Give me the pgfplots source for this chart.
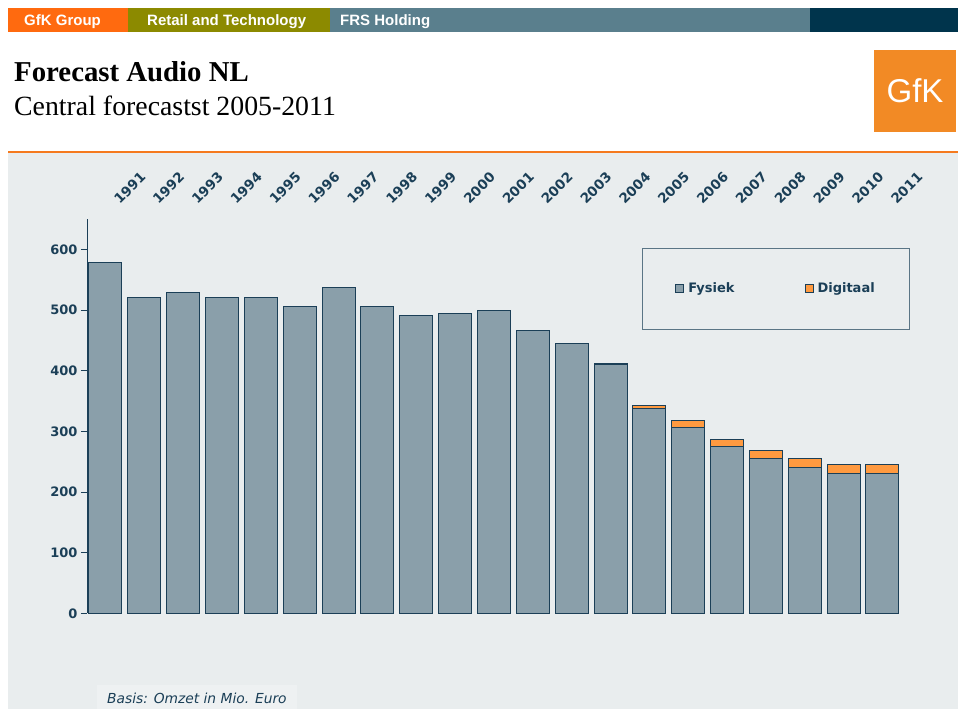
\documentclass[border=0pt]{standalone}
\usepackage{fontspec}
\setmainfont{Liberation Serif}
\newfontfamily\djv{DejaVu Sans}
\newfontfamily\lib{Liberation Sans}
\usepackage{graphicx}
\usepackage{pgfplots}
\usepackage{pgfplotstable}
\pgfplotsset{compat=1.18}

\definecolor{navy}{HTML}{1B3F57}
\definecolor{fys}{HTML}{8A9FAA}
\definecolor{dig}{HTML}{FF9A40}
\definecolor{panel}{HTML}{E9EDEE}
\definecolor{gfkorange}{HTML}{F28A25}
\definecolor{stripor}{HTML}{FF6A0F}
\definecolor{olivebar}{HTML}{8C8A00}
\definecolor{slate}{HTML}{5A7F8D}
\definecolor{darknavy}{HTML}{00344C}
\definecolor{hdrline}{HTML}{F57A1E}
\definecolor{legbox}{HTML}{5A7585}

% Omzet in Mio. Euro
\pgfplotstableread{
x year fysiek digitaal
0  1991 579 0
1  1992 520 0
2  1993 529 0
3  1994 520 0
4  1995 520 0
5  1996 505 0
6  1997 537 0
7  1998 505 0
8  1999 491 0
9  2000 494 0
10 2001 499 0
11 2002 467 0
12 2003 445 0
13 2004 410 2
14 2005 338 4
15 2006 306 11
16 2007 275 12
17 2008 255 14
18 2009 241 14
19 2010 231 15
20 2011 231 15
}\datatable

\begin{document}
\begin{tikzpicture}[x=1pt,y=1pt]
\useasboundingbox (0,0) rectangle (958,709);
\fill[white] (0,0) rectangle (958,709);
% header strip
\fill[stripor] (8,677) rectangle (128,701);
\fill[olivebar] (128,677) rectangle (330,701);
\fill[slate] (330,677) rectangle (810,701);
\fill[darknavy] (810,677) rectangle (958,701);
\begin{scope}[every node/.style={anchor=base west, inner sep=0pt, text=white,
  font=\lib\bfseries\fontsize{15}{15}\selectfont}]
\node at (24,683) {GfK Group};
\node at (147,683) {Retail and Technology};
\node at (340,683) {FRS Holding};
\end{scope}
% titles
\node[anchor=base west, inner sep=0pt, font=\bfseries\fontsize{28.8}{28.8}\selectfont] at (14,627) {Forecast Audio NL};
\node[anchor=base west, inner sep=0pt, font=\fontsize{27.8}{27.8}\selectfont] at (14,593) {Central forecastst 2005-2011};
% logo
\fill[gfkorange] (874,577) rectangle (956,659);
\node[text=white, font=\lib\fontsize{33}{33}\selectfont] at (915,618) {GfK};
% panel
\fill[panel] (8,0) rectangle (958,556);
\fill[hdrline] (8,556) rectangle (958,557.5);
\fill[panel!75!white] (97,0) rectangle (297,24);
\node[anchor=base west, inner sep=0pt, text=navy, font=\djv\itshape\fontsize{13.8}{13.8}\selectfont] at (107,5) {Basis: Omzet in Mio. Euro};

\begin{axis}[
  at={(87pt,95.7pt)}, anchor=south west,
  scale only axis, width=818pt, height=394.3pt,
  xmin=-0.476, xmax=20.58, ymin=0, ymax=650,
  clip=false,
  ybar stacked, bar width=33pt,
  axis line style={draw=none},
  /pgf/number format/assume math mode=true,
  xtick=data, xticklabels from table={\datatable}{year},
  xticklabel pos=upper, xtick style={draw=none},
  xticklabel style={xshift=14.5pt, yshift=3pt, rotate=45, anchor=south west,
    text=navy, font=\djv\bfseries\fontsize{13.5}{13.5}\selectfont},
  ytick={0,100,...,600}, ytick pos=left, tick align=outside,
  major tick length=6pt,
  ytick style={navy, line width=0.8pt},
  yticklabel style={text=navy, font=\djv\bfseries\fontsize{13}{13}\selectfont},
  legend columns=2,
  legend style={at={(rel axis cs:0.6785,0.9315)}, anchor=north west,
    draw=legbox, line width=0.8pt, fill=none, text=navy,
    font=\djv\bfseries\fontsize{13}{13}\selectfont,
    inner xsep=33pt, inner ysep=33pt, yshift=-1.5pt,
    /tikz/every even column/.append style={column sep=68pt}},
  legend image code/.code={\draw[#1, line width=0.8pt] (0pt,-4pt) rectangle (8pt,4pt); \path (10pt,0pt);},
]
\addplot[fill=fys, draw=navy, line width=1pt] table[x=x, y=fysiek] {\datatable};
\addlegendentry{Fysiek}
\addplot[fill=dig, draw=navy, line width=1pt] table[x=x, y=digitaal] {\datatable};
\addlegendentry{Digitaal}
\draw[navy, line width=0.8pt] (rel axis cs:0,0) -- (rel axis cs:0,1);
\end{axis}
\end{tikzpicture}
\end{document}
